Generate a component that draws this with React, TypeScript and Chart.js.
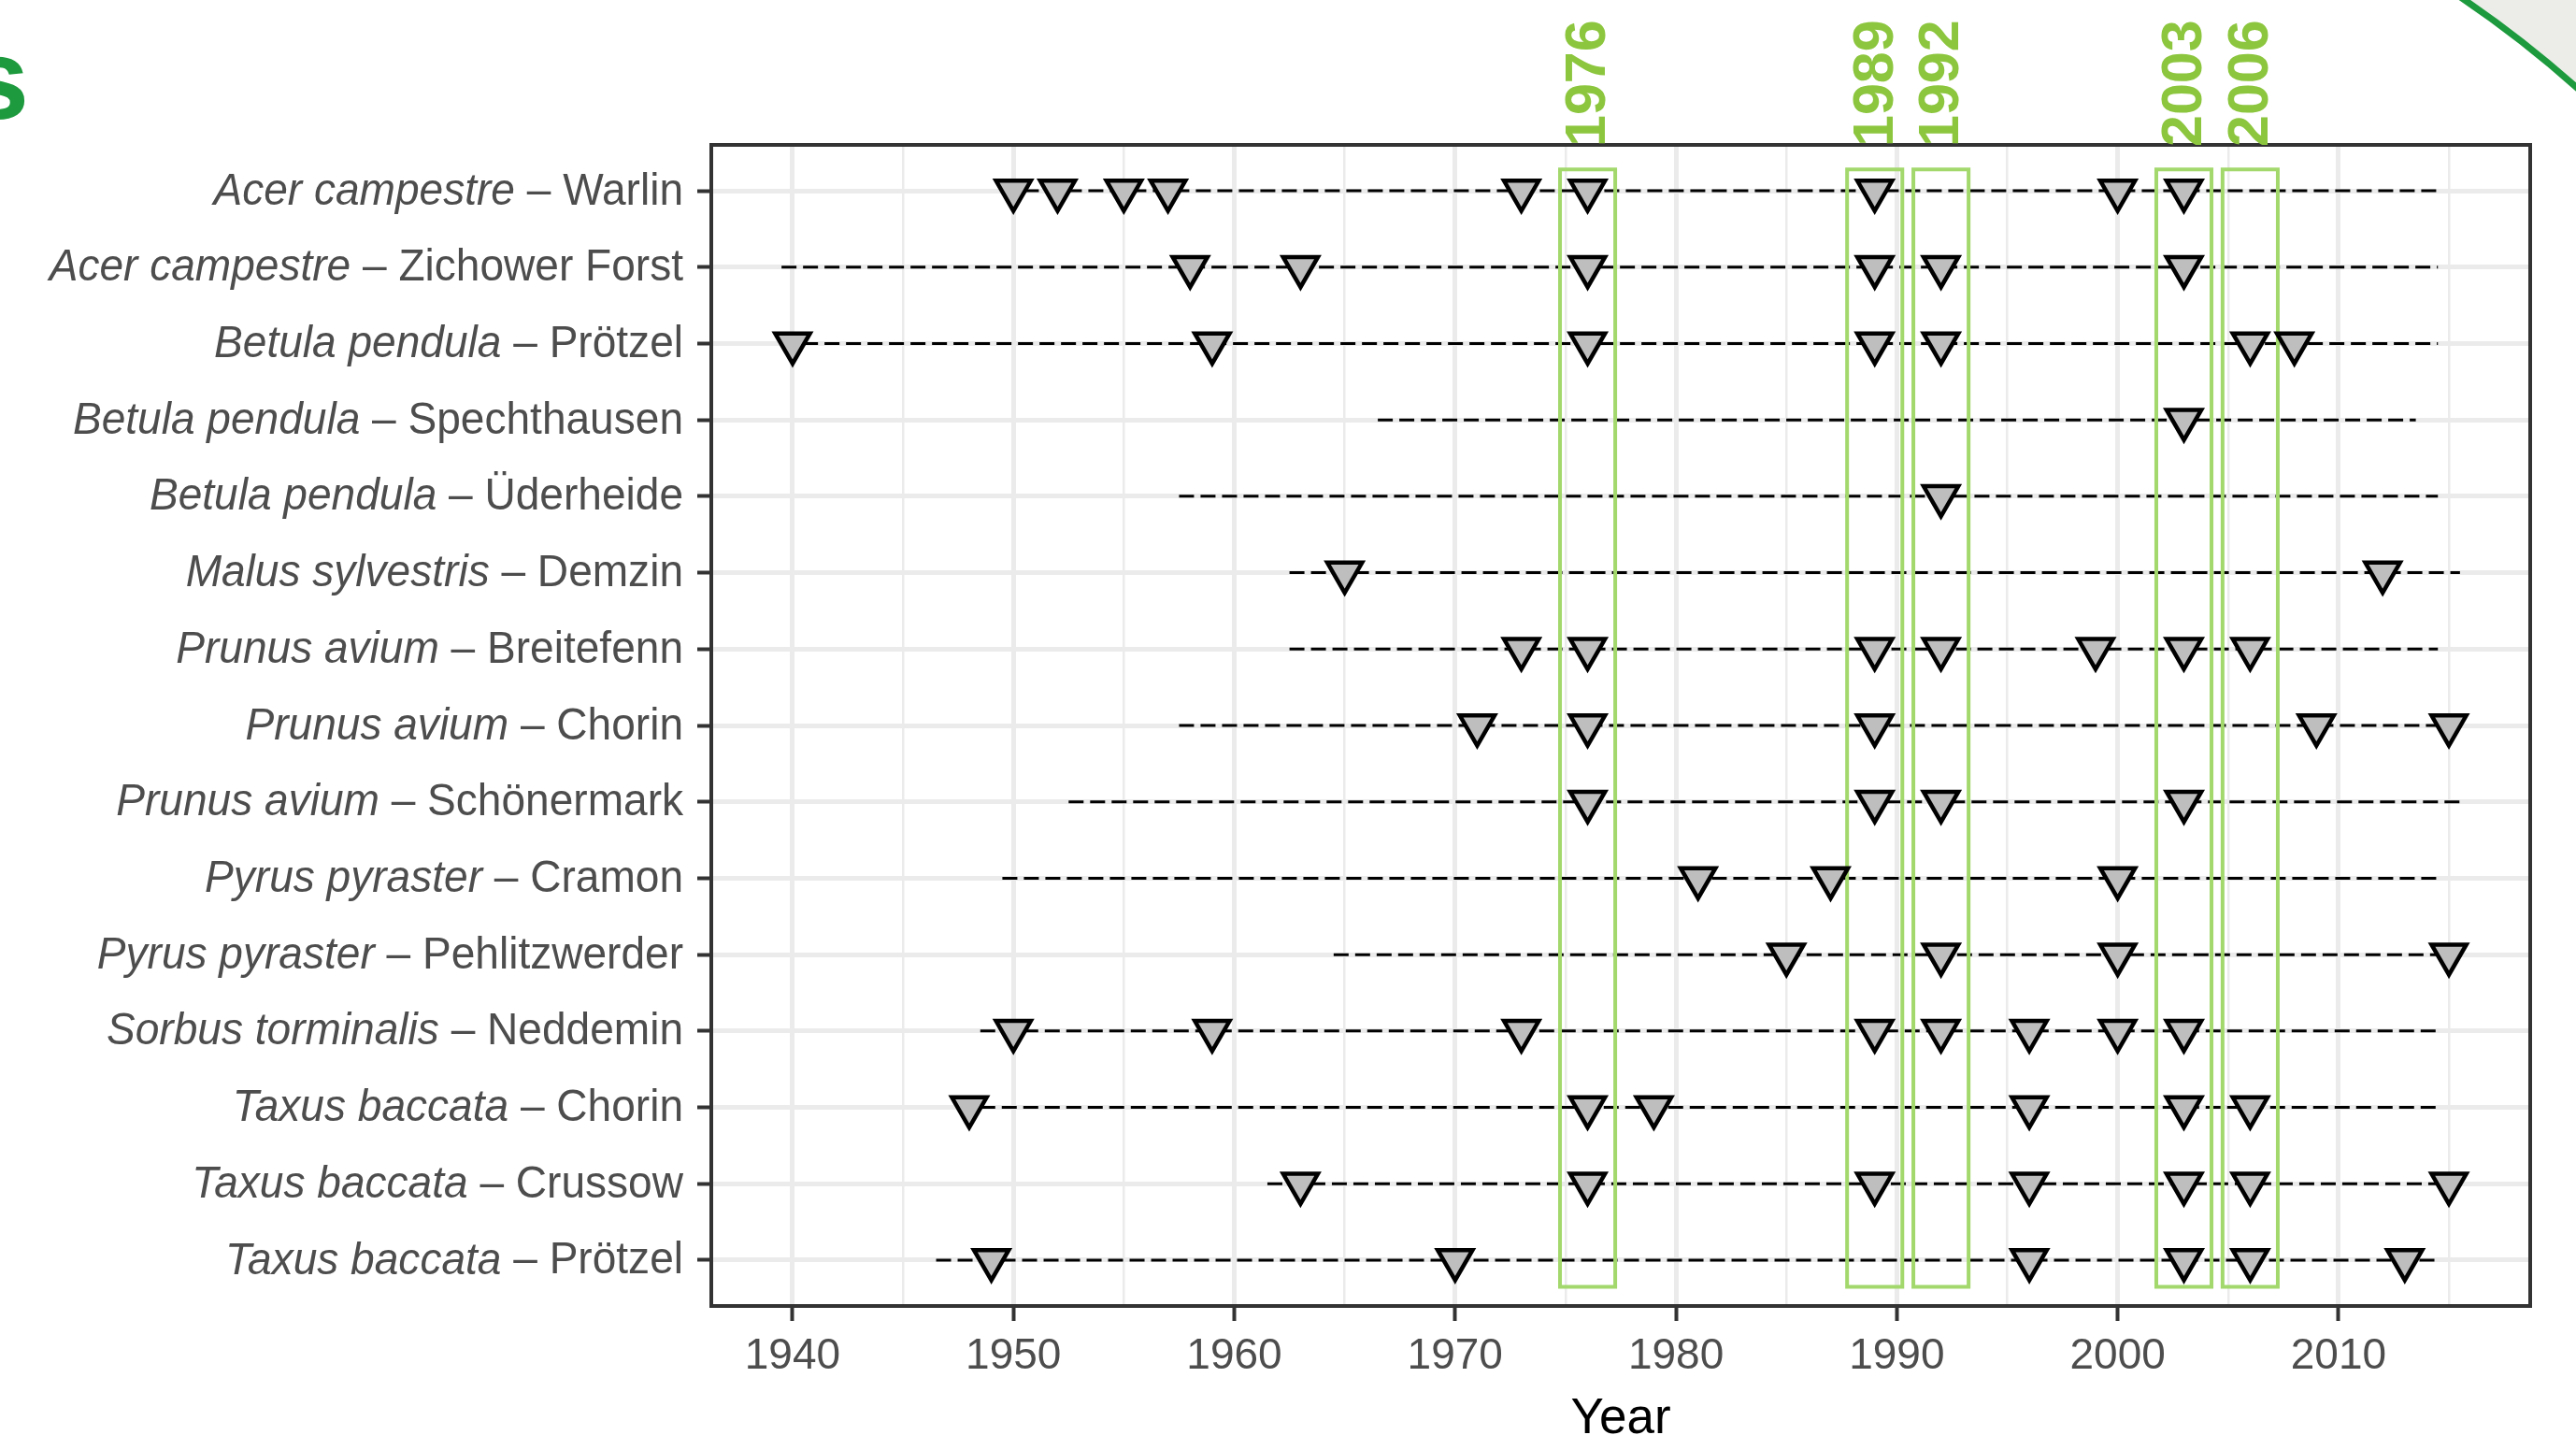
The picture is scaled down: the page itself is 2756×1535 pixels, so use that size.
import React, { useEffect, useRef } from 'react';
import { Chart, registerables } from 'chart.js';

Chart.register(...registerables);

// ---------- data ----------
const species = [
  'Acer campestre', 'Acer campestre', 'Betula pendula', 'Betula pendula', 'Betula pendula',
  'Malus sylvestris', 'Prunus avium', 'Prunus avium', 'Prunus avium', 'Pyrus pyraster',
  'Pyrus pyraster', 'Sorbus torminalis', 'Taxus baccata', 'Taxus baccata', 'Taxus baccata',
];
const sites = [
  'Warlin', 'Zichower Forst', 'Prötzel', 'Spechthausen', 'Üderheide',
  'Demzin', 'Breitefenn', 'Chorin', 'Schönermark', 'Cramon',
  'Pehlitzwerder', 'Neddemin', 'Chorin', 'Crussow', 'Prötzel',
];
const recordStart = [1949.5, 1939.5, 1939.5, 1966.5, 1957.5, 1962.5, 1962.5, 1957.5, 1952.5, 1949.5, 1964.5, 1948.5, 1948.5, 1961.5, 1946.5];
const recordEnd = [2014.5, 2014.5, 2014.5, 2013.5, 2014.5, 2015.5, 2014.5, 2015.5, 2015.5, 2014.5, 2015.5, 2014.5, 2014.5, 2015.5, 2014.5];
const eventYears: number[][] = [
  [1950, 1952, 1955, 1957, 1973, 1976, 1989, 2000, 2003],
  [1958, 1963, 1976, 1989, 1992, 2003],
  [1940, 1959, 1976, 1989, 1992, 2006, 2008],
  [2003],
  [1992],
  [1965, 2012],
  [1973, 1976, 1989, 1992, 1999, 2003, 2006],
  [1971, 1976, 1989, 2009, 2015],
  [1976, 1989, 1992, 2003],
  [1981, 1987, 2000],
  [1985, 1992, 2000, 2015],
  [1950, 1959, 1973, 1989, 1992, 1996, 2000, 2003],
  [1948, 1976, 1979, 1996, 2003, 2006],
  [1963, 1976, 1989, 1996, 2003, 2006, 2015],
  [1949, 1970, 1996, 2003, 2006, 2013],
];
const highlightYears = [1976, 1989, 1992, 2003, 2006];
const highlightHalfWidth = 1.25;
const highlightTop = -0.28;
const highlightBottom = 14.35;
const xMajorTicks = [1940, 1950, 1960, 1970, 1980, 1990, 2000, 2010];
const xMinorTicks = [1945, 1955, 1965, 1975, 1985, 1995, 2005, 2015];
const xTitle = 'Year';

// ---------- style ----------
const W = 2756;
const H = 1535;
const FONT = '"Liberation Sans", Arial, Helvetica, sans-serif';
const TEXT_GREY = '#4d4d4d';
const GRID = '#ebebeb';
const DARK = '#333333';
const BOX_GREEN = '#a2d86c';
const LABEL_GREEN = '#8cc63e';
const DECOR_GREEN = '#1e9a3e';
const LABEL_SIZE = 49;
const LABEL_SQUEEZE = 0.94;

const decorPlugin = {
  id: 'decor',
  beforeDraw(chart: any) {
    const ctx = chart.ctx as CanvasRenderingContext2D;
    ctx.save();
    ctx.fillStyle = '#ffffff';
    ctx.fillRect(0, 0, W, H);
    // slide decoration: arc in the upper-right corner
    const cx = 1958.8, cy = 990.2, r = 1200;
    const a0 = (-62 * Math.PI) / 180;
    const a1 = (-40 * Math.PI) / 180;
    ctx.beginPath();
    ctx.arc(cx, cy, r, a0, a1, false);
    ctx.lineTo(W + 400, -400);
    ctx.closePath();
    ctx.fillStyle = '#ecede8';
    ctx.fill();
    ctx.beginPath();
    ctx.arc(cx, cy, r, a0, a1, false);
    ctx.strokeStyle = DECOR_GREEN;
    ctx.lineWidth = 7;
    ctx.stroke();
    // slide decoration: cut-off title letter
    ctx.fillStyle = DECOR_GREEN;
    ctx.font = `bold 122px ${FONT}`;
    ctx.textAlign = 'right';
    ctx.textBaseline = 'alphabetic';
    ctx.fillText('s', 31, 127);
    ctx.restore();
  },
  afterDatasetsDraw(chart: any) {
    const ctx = chart.ctx as CanvasRenderingContext2D;
    const ca = chart.chartArea;
    ctx.save();
    ctx.strokeStyle = DARK;
    ctx.lineWidth = 4;
    ctx.strokeRect(ca.left, ca.top, ca.right - ca.left, ca.bottom - ca.top);
    ctx.restore();
  },
  afterDraw(chart: any) {
    const ctx = chart.ctx as CanvasRenderingContext2D;
    const ca = chart.chartArea;
    const ys = chart.scales.y;
    const xs = chart.scales.x;
    ctx.save();
    // y labels: italic species + regular site
    ctx.fillStyle = TEXT_GREY;
    ctx.textBaseline = 'middle';
    ctx.textAlign = 'right';
    const rightX = ca.left - 30;
    species.forEach((sp, i) => {
      const y = ys.getPixelForValue(i) + 1;
      const rest = ' \u2013 ' + sites[i];
      ctx.save();
      ctx.translate(rightX, y);
      ctx.scale(LABEL_SQUEEZE, 1);
      ctx.font = `${LABEL_SIZE}px ${FONT}`;
      ctx.fillText(rest, 0, 0);
      const w = ctx.measureText(rest).width;
      ctx.font = `italic ${LABEL_SIZE}px ${FONT}`;
      ctx.fillText(sp, -w, 0);
      ctx.restore();
    });
    // highlight year labels
    ctx.fillStyle = LABEL_GREEN;
    ctx.font = `bold 61px ${FONT}`;
    ctx.textAlign = 'left';
    ctx.textBaseline = 'middle';
    highlightYears.forEach((yr) => {
      const x = xs.getPixelForValue(yr);
      ctx.save();
      ctx.translate(x + 2, ca.top + 2);
      ctx.rotate(-Math.PI / 2);
      ctx.fillText(String(yr), 0, 0);
      ctx.restore();
    });
    // x axis title
    ctx.fillStyle = '#000000';
    ctx.font = `53px ${FONT}`;
    ctx.textAlign = 'center';
    ctx.textBaseline = 'alphabetic';
    ctx.fillText(xTitle, (ca.left + ca.right) / 2, 1533);
    ctx.restore();
  },
};

export default function App() {
  const ref = useRef<HTMLCanvasElement | null>(null);

  useEffect(() => {
    const canvas = ref.current;
    if (!canvas) return;

    const lineSets = species.map((_, i) => ({
      label: 'record ' + i,
      data: [
        { x: recordStart[i], y: i },
        { x: recordEnd[i], y: i },
      ],
      showLine: true,
      borderColor: '#000000',
      borderWidth: 3,
      borderDash: [16, 7],
      pointRadius: 0,
      order: 3,
    }));

    const boxSets = highlightYears.map((yr) => ({
      label: 'box ' + yr,
      data: [
        { x: yr - highlightHalfWidth, y: highlightTop },
        { x: yr + highlightHalfWidth, y: highlightTop },
        { x: yr + highlightHalfWidth, y: highlightBottom },
        { x: yr - highlightHalfWidth, y: highlightBottom },
        { x: yr - highlightHalfWidth, y: highlightTop },
      ],
      showLine: true,
      borderColor: BOX_GREEN,
      borderWidth: 4,
      borderCapStyle: 'square',
      borderJoinStyle: 'miter',
      pointRadius: 0,
      tension: 0,
      order: 2,
    }));

    const pointData: { x: number; y: number }[] = [];
    eventYears.forEach((arr, i) => arr.forEach((yr) => pointData.push({ x: yr, y: i })));
    const pointSet = {
      label: 'events',
      data: pointData,
      showLine: false,
      pointStyle: 'triangle',
      pointRotation: 180,
      pointRadius: 21.5,
      pointBorderWidth: 4.5,
      pointBackgroundColor: '#bebebe',
      pointBorderColor: '#000000',
      order: 1,
    };

    const chart = new Chart(canvas, {
      type: 'scatter',
      data: { datasets: [pointSet, ...boxSets, ...lineSets] as any },
      plugins: [decorPlugin],
      options: {
        responsive: false,
        animation: false,
        devicePixelRatio: 1,
        events: [],
        layout: { padding: { top: 155, right: 49, left: 0, bottom: 0 } },
        plugins: {
          legend: { display: false },
          tooltip: { enabled: false },
          title: { display: false },
        },
        scales: {
          x: {
            type: 'linear',
            min: 1936.32,
            max: 2018.68,
            afterBuildTicks: (s: any) => {
              s.ticks = [...xMajorTicks, ...xMinorTicks].sort((a, b) => a - b).map((v) => ({ value: v }));
            },
            afterFit: (s: any) => {
              s.height = 138;
            },
            ticks: {
              autoSkip: false,
              maxRotation: 0,
              minRotation: 0,
              padding: 11,
              color: TEXT_GREY,
              font: { family: FONT, size: 46 },
              callback: (v: any) => (xMajorTicks.includes(Number(v)) ? String(v) : ''),
            },
            grid: {
              color: GRID,
              lineWidth: (c: any) => (c.tick ? (xMajorTicks.includes(c.tick.value) ? 5 : 2.5) : 0),
              drawTicks: true,
              tickLength: 16,
              tickWidth: 4,
              tickColor: (c: any) => (c.tick && xMajorTicks.includes(c.tick.value) ? DARK : 'rgba(0,0,0,0)'),
            },
            border: { display: false },
          },
          y: {
            type: 'linear',
            reverse: true,
            min: -0.6,
            max: 14.6,
            afterBuildTicks: (s: any) => {
              s.ticks = species.map((_, i) => ({ value: i }));
            },
            afterFit: (s: any) => {
              s.width = 761;
            },
            ticks: {
              autoSkip: false,
              padding: 0,
              font: { family: FONT, size: 12 },
              callback: () => '',
            },
            grid: {
              color: GRID,
              lineWidth: 5,
              drawTicks: true,
              tickLength: 15,
              tickWidth: 4,
              tickColor: DARK,
            },
            border: { display: false },
          },
        },
      } as any,
    });

    return () => chart.destroy();
  }, []);

  return (
    <div style={{ position: 'fixed', left: 0, top: 0, width: W, height: H, background: '#ffffff', overflow: 'hidden' }}>
      <canvas ref={ref} width={W} height={H} style={{ width: W, height: H, display: 'block' }} />
    </div>
  );
}
